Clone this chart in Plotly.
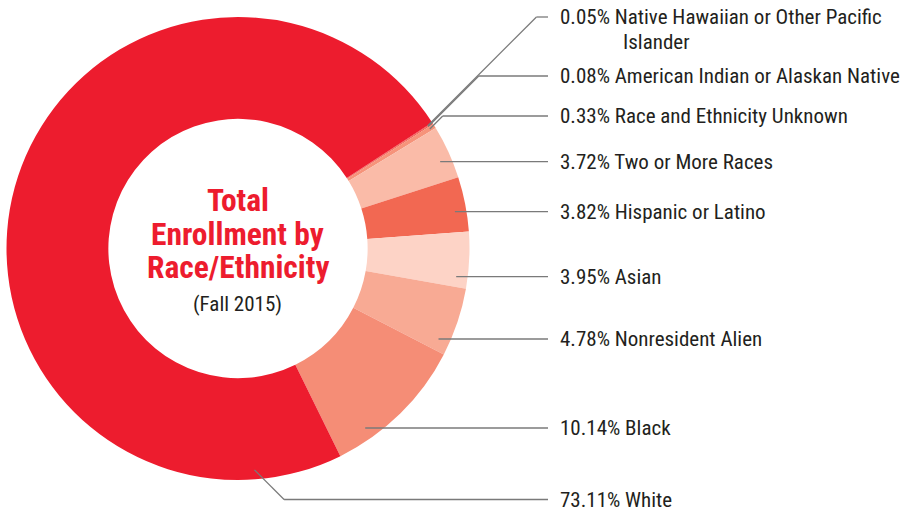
import math
import plotly.graph_objects as go

# ---- data (top-to-bottom order of the labels) ----
categories = [
    "Native Hawaiian or Other Pacific Islander",
    "American Indian or Alaskan Native",
    "Race and Ethnicity Unknown",
    "Two or More Races",
    "Hispanic or Latino",
    "Asian",
    "Nonresident Alien",
    "Black",
    "White",
]
percent = [0.05, 0.08, 0.33, 3.72, 3.82, 3.95, 4.78, 10.14, 73.11]
label_first_line = [
    "Native Hawaiian or Other Pacific",
    "American Indian or Alaskan Native",
    "Race and Ethnicity Unknown",
    "Two or More Races",
    "Hispanic or Latino",
    "Asian",
    "Nonresident Alien",
    "Black",
    "White",
]
label_second_line = ["Islander", "", "", "", "", "", "", "", ""]
colors = ["#EE3B3F", "#F25A4B", "#F6937A", "#FABBA8", "#F26852",
          "#FDD3C6", "#F8AA94", "#F58D76", "#ED1C2E"]

center_title = ["Total", "Enrollment by", "Race/Ethnicity"]
center_sub = "(Fall 2015)"

# ---- layout constants (pixels) ----
W, H = 908, 511
CX, CY, R = 238, 248.5, 231.5
HOLE = 0.56
ROT = 57
LABEL_X = 558
LINE_END_X = 548
label_y = [17, 76, 116, 161.7, 211.7, 276.7, 339, 428, 499.5]
leader_style = ["diag_up", "diag_up", "diag_up", "horiz", "horiz",
                "horiz", "horiz", "horiz", "diag_down"]
second_line_x = 621
second_line_dy = 25

FONT = "Liberation Sans Narrow, Arial Narrow, Roboto Condensed, Roboto, sans-serif"
TEXT_COLOR = "#231F20"
LINE_COLOR = "#7A7A7A"
RED = "#ED1C2E"
LABEL_SIZE = 21
TITLE_SIZE = 31.5


def px(x):
    return x / W


def py(y):
    return 1 - y / H


# slice angle ranges (degrees clockwise from 12 o'clock)
total = sum(percent)
starts, ends = [], []
a = ROT
for v in percent:
    starts.append(a)
    a += v / total * 360
    ends.append(a)


def pt(theta, r):
    t = math.radians(theta)
    return CX + r * math.sin(t), CY - r * math.cos(t)


def in_range(theta, s, e):
    for k in (-360, 0, 360):
        if s <= theta + k <= e:
            return True
    return False


fig = go.Figure()
fig.add_trace(go.Pie(
    values=percent,
    labels=categories,
    sort=False,
    direction="clockwise",
    rotation=ROT,
    hole=HOLE,
    marker=dict(colors=colors, line=dict(width=0)),
    textinfo="none",
    hoverinfo="label+percent",
    showlegend=False,
    domain=dict(x=[px(CX - R), px(CX + R)], y=[py(CY + R), py(CY - R)]),
))

shapes = []
annotations = []


def seg(x0, y0, x1, y1):
    shapes.append(dict(type="line", xref="paper", yref="paper",
                       x0=px(x0), y0=py(y0), x1=px(x1), y1=py(y1),
                       line=dict(color=LINE_COLOR, width=1.3)))


for i in range(len(percent)):
    s, e = starts[i], ends[i]
    mid = (s + e) / 2
    ly = label_y[i]
    style = leader_style[i]
    if style == "horiz":
        ra = 220
        c = (CY - ly) / ra
        c = max(-1, min(1, c))
        th = math.degrees(math.acos(c))
        if not in_range(th, s, e):
            th = mid
        ax, ay = pt(th, ra)
        seg(ax, ay, LINE_END_X, ly)
    elif style == "diag_up":
        ax, ay = pt(mid, 226)
        ex = ax + (ay - ly)
        seg(ax, ay, ex, ly)
        seg(ex, ly, LINE_END_X, ly)
    else:  # diag_down, anchor near start of big slice
        th = s + 22
        if not in_range(th, s, e):
            th = mid
        ax, ay = pt(th, 222)
        ex = ax + (ly - ay)
        seg(ax, ay, ex, ly)
        seg(ex, ly, LINE_END_X, ly)

    annotations.append(dict(
        xref="paper", yref="paper", x=px(LABEL_X), y=py(ly),
        xanchor="left", yanchor="middle", showarrow=False,
        text=f"{percent[i]:.2f}% {label_first_line[i]}",
        font=dict(family=FONT, size=LABEL_SIZE, color=TEXT_COLOR)))
    if label_second_line[i]:
        annotations.append(dict(
            xref="paper", yref="paper", x=px(second_line_x),
            y=py(ly + second_line_dy),
            xanchor="left", yanchor="middle", showarrow=False,
            text=label_second_line[i],
            font=dict(family=FONT, size=LABEL_SIZE, color=TEXT_COLOR)))

title_y = [201, 234, 267]
for t, ty in zip(center_title, title_y):
    annotations.append(dict(
        xref="paper", yref="paper", x=px(CX), y=py(ty),
        xanchor="center", yanchor="middle", showarrow=False,
        text=f"<b>{t}</b>",
        font=dict(family=FONT, size=TITLE_SIZE, color=RED)))
annotations.append(dict(
    xref="paper", yref="paper", x=px(CX), y=py(304),
    xanchor="center", yanchor="middle", showarrow=False,
    text=center_sub,
    font=dict(family=FONT, size=LABEL_SIZE, color=TEXT_COLOR)))

fig.update_layout(
    width=W, height=H, autosize=False,
    margin=dict(l=0, r=0, t=0, b=0),
    paper_bgcolor="white", plot_bgcolor="white",
    shapes=shapes, annotations=annotations,
    showlegend=False,
)

fig.write_html("out.html",
               config={"displayModeBar": False},
               post_script="document.body.style.margin='0px';")
